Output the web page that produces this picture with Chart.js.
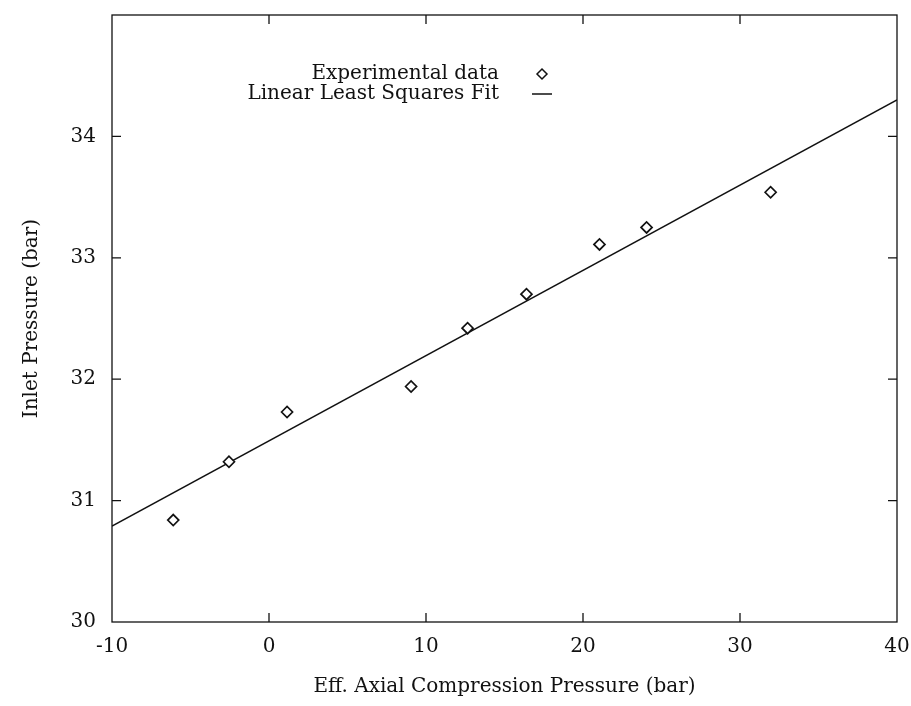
<!DOCTYPE html>
<html>
<head>
<meta charset="utf-8">
<script src="https://cdn.jsdelivr.net/npm/chart.js@4.4.1/dist/chart.umd.min.js"></script>
<style>
  html, body { margin: 0; padding: 0; background: #fff; }
  #wrap { width: 911px; height: 706px; }
</style>
</head>
<body>
<div id="wrap"><canvas id="chart" width="911" height="706"></canvas></div>
<script>
const pressureX = [-6.1, -2.55, 1.15, 9.05, 12.65, 16.4, 21.05, 24.05, 31.95];
const inletY = [30.84, 31.32, 31.73, 31.94, 32.42, 32.70, 33.11, 33.25, 33.54];

// Ausgleichsgerade (Endpunkte)
const fitX = [-10, 40];
const fitY = [30.79, 34.30];

const xTicks = [-10, 0, 10, 20, 30, 40];
const yTicks = [30, 31, 32, 33, 34];

const FONT = 'DejaVu Serif';
const INK = '#111';

// Ticks nach innen, auf allen vier Seiten
const innerTicks = {
  id: 'innerTicks',
  afterDraw(chart) {
    const { ctx, chartArea: a, scales } = chart;
    const len = 9;
    ctx.save();
    ctx.strokeStyle = INK;
    ctx.lineWidth = 1.3;
    ctx.beginPath();
    xTicks.slice(1, -1).forEach(v => {
      const px = scales.x.getPixelForValue(v);
      ctx.moveTo(px, a.bottom); ctx.lineTo(px, a.bottom - len);
      ctx.moveTo(px, a.top); ctx.lineTo(px, a.top + len);
    });
    yTicks.slice(1).forEach(v => {
      const py = scales.y.getPixelForValue(v);
      ctx.moveTo(a.left, py); ctx.lineTo(a.left + len, py);
      ctx.moveTo(a.right, py); ctx.lineTo(a.right - len, py);
    });
    ctx.stroke();
    ctx.strokeRect(a.left, a.top, a.right - a.left, a.bottom - a.top);
    ctx.restore();
  },
};

// Legende rechtsbündig, Symbol rechts vom Text
const sideLegend = {
  id: 'sideLegend',
  afterDraw(chart) {
    const { ctx } = chart;
    const textRight = 499;
    const symX = 542;
    const rows = [74, 94];
    ctx.save();
    ctx.font = `20px "${FONT}"`;
    ctx.fillStyle = INK;
    ctx.textAlign = 'right';
    ctx.textBaseline = 'middle';
    chart.data.datasets.forEach((ds, i) => {
      const y = rows[i];
      ctx.fillText(ds.label, textRight, y);
      ctx.strokeStyle = INK;
      ctx.lineWidth = 1.5;
      if (ds.type === 'line') {
        ctx.beginPath();
        ctx.moveTo(symX - 10, y);
        ctx.lineTo(symX + 10, y);
        ctx.stroke();
      } else {
        ctx.fillStyle = '#fff';
        Chart.helpers.drawPoint(ctx, { pointStyle: 'rectRot', radius: 5, borderWidth: 1.6 }, symX, y);
        ctx.fillStyle = INK;
      }
    });
    ctx.restore();
  },
};

new Chart(document.getElementById('chart'), {
  type: 'scatter',
  data: {
    datasets: [
      {
        label: 'Experimental data',
        data: pressureX.map((x, i) => ({ x, y: inletY[i] })),
        pointStyle: 'rectRot',
        pointRadius: 5.5,
        pointBorderWidth: 1.7,
        borderColor: INK,
        backgroundColor: '#fff',
        order: 1,
      },
      {
        type: 'line',
        label: 'Linear Least Squares Fit',
        data: fitX.map((x, i) => ({ x, y: fitY[i] })),
        borderColor: INK,
        borderWidth: 1.5,
        pointRadius: 0,
        fill: false,
        order: 2,
      },
    ],
  },
  options: {
    responsive: false,
    animation: false,
    layout: { padding: { top: 15, right: 14, left: 0, bottom: 0 } },
    plugins: {
      legend: { display: false },
      tooltip: { enabled: false },
    },
    scales: {
      x: {
        type: 'linear',
        min: -10,
        max: 40,
        afterBuildTicks: s => { s.ticks = xTicks.map(v => ({ value: v })); },
        afterFit: s => { s.height = 84; s.paddingLeft = 0; s.paddingRight = 0; },
        grid: { display: false, drawTicks: false },
        border: { display: false },
        ticks: { color: INK, font: { family: FONT, size: 20 }, padding: 13 },
        title: {
          display: true,
          text: 'Eff. Axial Compression Pressure (bar)',
          color: INK,
          font: { family: FONT, size: 20 },
          padding: { top: 0, bottom: 7 },
        },
      },
      y: {
        type: 'linear',
        min: 30,
        max: 35,
        afterBuildTicks: s => { s.ticks = yTicks.map(v => ({ value: v })); },
        afterFit: s => { s.width = 112; s.paddingTop = 0; s.paddingBottom = 0; },
        grid: { display: false, drawTicks: false },
        border: { display: false },
        ticks: { color: INK, font: { family: FONT, size: 20 }, padding: 16 },
        title: {
          display: true,
          text: 'Inlet Pressure (bar)',
          color: INK,
          font: { family: FONT, size: 20 },
          padding: { top: 20, bottom: 0 },
        },
      },
    },
  },
  plugins: [innerTicks, sideLegend],
});
</script>
</body>
</html>
